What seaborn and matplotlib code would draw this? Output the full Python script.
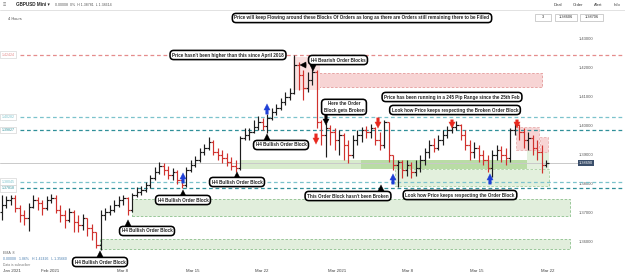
import numpy as np
import pandas as pd
import seaborn as sns
import matplotlib.pyplot as plt
from matplotlib.patches import Rectangle, FancyArrowPatch
from matplotlib.lines import Line2D

sns.set_theme(style="white")
plt.rcParams['font.family'] = ['Liberation Sans', 'DejaVu Sans']

### GBPUSD 4h bars
first_open = 1.3700
close = [1.3724, 1.3741, 1.3748, 1.3714, 1.3690, 1.3679, 1.3717, 1.3741, 1.3731, 1.3714,
         1.3741, 1.3748, 1.3707, 1.3690, 1.3672, 1.3700, 1.3666, 1.3655, 1.3679, 1.3645,
         1.3631, 1.3586, 1.3690, 1.3700, 1.3707, 1.3724, 1.3741, 1.3748, 1.3707, 1.3759,
         1.3769, 1.3776, 1.3793, 1.3817, 1.3838, 1.3859, 1.3845, 1.3828, 1.3838, 1.3810,
         1.3793, 1.3845, 1.3862, 1.3879, 1.3907, 1.3921, 1.3941, 1.3907, 1.3897, 1.3886,
         1.3872, 1.3859, 1.3852, 1.3955, 1.3966, 1.3976, 1.3993, 1.4010, 1.3997, 1.4024,
         1.4045, 1.4059, 1.4079, 1.4097, 1.4110, 1.4207, 1.4172, 1.4128, 1.4155, 1.4183,
         1.4010, 1.3966, 1.3990, 1.3976, 1.3948, 1.3966, 1.3931, 1.3897, 1.3948, 1.3966,
         1.3983, 1.3976, 1.3990, 1.3948, 1.3931, 1.4010, 1.3897, 1.3862, 1.3872, 1.3845,
         1.3862, 1.3838, 1.3852, 1.3879, 1.3907, 1.3931, 1.3921, 1.3948, 1.3966, 1.3983,
         1.3993, 1.4000, 1.3966, 1.3931, 1.3907, 1.3921, 1.3897, 1.3879, 1.3852, 1.3897,
         1.3914, 1.3897, 1.3886, 1.3983, 1.4000, 1.3976, 1.3948, 1.3955, 1.3921, 1.3907,
         1.3862, 1.3869]
high = [1.3759, 1.3755, 1.3759, 1.3759, 1.3724, 1.3707, 1.3731, 1.3759, 1.3752, 1.3741,
        1.3755, 1.3762, 1.3759, 1.3724, 1.3707, 1.3714, 1.3707, 1.3690, 1.3693, 1.3679,
        1.3659, 1.3631, 1.3707, 1.3714, 1.3724, 1.3741, 1.3755, 1.3759, 1.3752, 1.3766,
        1.3786, 1.3790, 1.3803, 1.3828, 1.3855, 1.3872, 1.3869, 1.3859, 1.3852, 1.3845,
        1.3824, 1.3855, 1.3879, 1.3893, 1.3921, 1.3934, 1.3959, 1.3948, 1.3921, 1.3914,
        1.3903, 1.3890, 1.3879, 1.3962, 1.3990, 1.3990, 1.4017, 1.4031, 1.4024, 1.4038,
        1.4059, 1.4072, 1.4093, 1.4114, 1.4128, 1.4241, 1.4217, 1.4190, 1.4183, 1.4203,
        1.4190, 1.4017, 1.4007, 1.4000, 1.3990, 1.3983, 1.3972, 1.3948, 1.3966, 1.3983,
        1.3993, 1.3997, 1.4003, 1.3993, 1.3976, 1.4017, 1.4010, 1.3897, 1.3879, 1.3879,
        1.3879, 1.3872, 1.3879, 1.3897, 1.3921, 1.3948, 1.3955, 1.3966, 1.3983, 1.3997,
        1.4010, 1.4014, 1.4003, 1.3983, 1.3948, 1.3941, 1.3931, 1.3914, 1.3897, 1.3914,
        1.3931, 1.3928, 1.3921, 1.3990, 1.4010, 1.4003, 1.3990, 1.3976, 1.3966, 1.3948,
        1.3931, 1.3879]
low = [1.3672, 1.3714, 1.3724, 1.3700, 1.3666, 1.3655, 1.3634, 1.3714, 1.3707, 1.3690,
       1.3707, 1.3731, 1.3697, 1.3666, 1.3645, 1.3666, 1.3631, 1.3631, 1.3638, 1.3617,
       1.3603, 1.3576, 1.3569, 1.3672, 1.3690, 1.3700, 1.3717, 1.3724, 1.3690, 1.3700,
       1.3752, 1.3759, 1.3769, 1.3783, 1.3810, 1.3831, 1.3828, 1.3814, 1.3810, 1.3797,
       1.3783, 1.3786, 1.3838, 1.3855, 1.3872, 1.3897, 1.3914, 1.3897, 1.3879, 1.3869,
       1.3859, 1.3845, 1.3838, 1.3845, 1.3948, 1.3948, 1.3972, 1.3983, 1.3983, 1.3972,
       1.4017, 1.4034, 1.4052, 1.4069, 1.4086, 1.4107, 1.4121, 1.4086, 1.4114, 1.4138,
       1.3990, 1.3931, 1.3890, 1.3931, 1.3914, 1.3897, 1.3879, 1.3869, 1.3886, 1.3931,
       1.3941, 1.3955, 1.3955, 1.3931, 1.3914, 1.3921, 1.3872, 1.3845, 1.3786, 1.3817,
       1.3824, 1.3817, 1.3824, 1.3838, 1.3862, 1.3886, 1.3907, 1.3914, 1.3931, 1.3955,
       1.3972, 1.3983, 1.3948, 1.3914, 1.3879, 1.3886, 1.3872, 1.3862, 1.3838, 1.3821,
       1.3879, 1.3872, 1.3862, 1.3872, 1.3966, 1.3948, 1.3921, 1.3914, 1.3897, 1.3879,
       1.3834, 1.3855]

date_labels = ["Jan 2021", "Feb 2021", "Mar 8", "Mar 15", "Mar 22",
               "Mar 2021", "Mar 8", "Mar 15", "Mar 22"]
date_ticks = [2.2, 10.7, 26.7, 42.4, 57.8, 74.4, 90.2, 105.6, 121.3]
price_ticks = [1.36, 1.37, 1.38, 1.39, 1.40, 1.41, 1.42, 1.43]

## horizontal levels
level_prices = [1.42424, 1.40282, 1.39827, 1.38045, 1.37818]
level_colors = ["#e58c8c", "#7cc3cc", "#2f8f98", "#7cc3cc", "#2f8f98"]

## order block zones (bar from, bar to, price low, price high)
zone_from = [70.2, 64.7, 28.9, 21.8, 52.9, 79.8, 87.3, 116.7, 114.2, 119.6]
zone_to = [120.0, 70.7, 126.2, 126.2, 121.6, 121.6, 121.6, 121.6, 119.3, 121.3]
zone_low = [1.4131, 1.4121, 1.3686, 1.3572, 1.3848, 1.3848, 1.3790, 1.3848, 1.3914, 1.3907]
zone_high = [1.4179, 1.4234, 1.3745, 1.3607, 1.3879, 1.3879, 1.3848, 1.3914, 1.3993, 1.3959]
zone_fill = ["#f7d4d4", "#fae0e0", "#e1eedc", "#e1eedc", "#d8ebcd", "#b9dca5",
             "#e3f0dd", "#e3f0dd", "#f7d4d4", "#f7d4d4"]
zone_edge = ["#e49a9a", "none", "#8cc08c", "#8cc08c", "none", "none",
             "#a8d0a0", "none", "#e8b0b0", "#e8b0b0"]

df = pd.DataFrame({'close': close, 'high': high, 'low': low})
df['open'] = [first_open] + close[:-1]
df['up'] = df['close'] >= df['open']

W, H = 625, 274
def fx(x):
    return x / W
def fy(y):
    return 1 - y / H

fig = plt.figure(figsize=(6.25, 2.74), dpi=100)
ax = fig.add_axes([0, fy(266), 572 / W, (266 - 10) / H])
ax.set_xlim(-0.444, 126.67)
ax.set_ylim(1.35138, 1.43966)
sns.despine(ax=ax, left=True, bottom=True)

for i in range(len(zone_from)):
    ax.add_patch(Rectangle((zone_from[i], zone_low[i]), zone_to[i] - zone_from[i],
                           zone_high[i] - zone_low[i], fc=zone_fill[i], ec=zone_edge[i],
                           ls=(0, (3, 2)), lw=0.6, zorder=1, clip_on=False))

ytr = ax.get_yaxis_transform()
for p, c, lab in zip(level_prices, level_colors, ["%.5f" % v for v in level_prices]):
    ax.plot([0.035, 1.093], [p, p], color=c, lw=0.9, ls=(0, (3, 2.2)),
            transform=ytr, clip_on=False, zorder=2)
    ax.text(0.003, p, lab, transform=ytr, fontsize=2.6, va='center', ha='left',
            color=c, bbox=dict(boxstyle='square,pad=0.35', fc='white', ec='#cccccc', lw=0.4))

## current price line + box
ax.plot([0, 1.01], [close[-1], close[-1]], color='#c9c9c9', lw=0.7,
        transform=ytr, clip_on=False, zorder=1.5)
ax.text(1.012, close[-1], "%.5f" % close[-1], transform=ytr, fontsize=2.8,
        va='center', ha='left', color='white',
        bbox=dict(boxstyle='square,pad=0.35', fc='#3b4f6b', ec='none'))

### OHLC bars
for flag, col in [(True, '#1c1c1c'), (False, '#d0312d')]:
    sub = df[df['up'] == flag]
    x = sub.index.values
    ax.vlines(x, sub['low'], sub['high'], color=col, lw=0.85, zorder=3)
    ax.hlines(sub['open'], x - 0.45, x, color=col, lw=0.85, zorder=3)
    ax.hlines(sub['close'], x, x + 0.45, color=col, lw=0.85, zorder=3)

ax.yaxis.tick_right()
ax.set_yticks(price_ticks)
ax.set_yticklabels(["%.5f" % v for v in price_ticks])
ax.tick_params(axis='y', length=0, pad=5, labelsize=3, labelcolor='#555555')
ax.set_xticks(date_ticks)
ax.set_xticklabels(date_labels)
ax.tick_params(axis='x', length=0, pad=2, labelsize=3.2, labelcolor='#444444')

### header
fig.add_artist(Line2D([0, 1], [fy(10), fy(10)], color='#dddddd', lw=0.6,
                      transform=fig.transFigure))
fig.text(fx(3), fy(5), "≡", fontsize=4, color='#777777', va='center')
fig.text(fx(16), fy(5), "GBPUSD Mini ▾", fontsize=3.3, fontweight='bold', va='center')
fig.text(fx(55), fy(5), "0.00008  0%  H 1.38781  L 1.38614", fontsize=2.6,
         color='#555555', va='center')
for lab, xp in [("Deal", 558), ("Order", 578), ("Alert", 598), ("Info", 617)]:
    fig.text(fx(xp), fy(5), lab, fontsize=3, ha='center', va='center', color='#333333')
fig.text(fx(8), fy(19), "4 Hours", fontsize=2.8, color='#444444', va='center')
for lab, x0, x1 in [("3", 535, 551), ("1.38606", 555, 577), ("1.38706", 580, 603)]:
    fig.add_artist(Rectangle((fx(x0), fy(21)), fx(x1 - x0), 7 / H, fill=False,
                             ec='#bbbbbb', lw=0.5, transform=fig.transFigure))
    fig.text(fx((x0 + x1) / 2), fy(17.5), lab, fontsize=2.8, ha='center', va='center')

## bottom left info
fig.text(fx(3), fy(253), "EMA  8", fontsize=2.6, color='#666666', va='center')
fig.text(fx(3), fy(259), "0.00008   1.86%   H 1.42426   L 1.35660         2021 14:00",
         fontsize=2.5, color='#4a7fb0', va='center')
fig.text(fx(3), fy(265), "Data is subscriber", fontsize=2.4, color='#777777', va='center')

### arrows (tail x, tail y, head x, head y) in pixels
arrows = [
    (183, 186, 183, 170, '#1e3fd6'), (267, 117, 267, 101, '#1e3fd6'),
    (393, 187, 393, 171, '#1e3fd6'), (490, 187, 490, 171, '#1e3fd6'),
    (316, 131, 316, 147, '#e8281e'), (378, 115, 378, 131, '#e8281e'),
    (452, 117, 452, 131, '#e8281e'), (517, 117, 517, 131, '#e8281e'),
    (100, 257, 100, 248, 'black'), (128, 226, 128, 217, 'black'),
    (183, 196, 183, 187, 'black'), (237, 178, 237, 169, 'black'),
    (267, 140, 267, 131, 'black'), (381, 191, 381, 182, 'black'),
    (326, 112, 326, 128, 'black'), (313, 62, 313, 74, 'black'),
    (309, 65, 297, 65, 'black'),
]
for x0, y0, x1, y1, c in arrows:
    fig.add_artist(FancyArrowPatch((fx(x0), fy(y0)), (fx(x1), fy(y1)),
                   transform=fig.transFigure,
                   arrowstyle='simple,head_length=0.9,head_width=0.9,tail_width=0.4',
                   mutation_scale=5, fc=c, ec=c, lw=0.2, zorder=9))

### callout boxes
notes = [
    ("Price will keep Flowing around these Blocks Of Orders as long as there are Orders still remaining there to be Filled", 362, 18),
    ("Price hasn't been higher than this since April 2018", 228, 55),
    ("H4 Bearish Order Blocks", 338, 60),
    ("Here the Order\nBlock gets Broken", 344, 107),
    ("Price has been running in a 245 Pip Range since the 25th Feb", 452, 97),
    ("Look how Price keeps respecting the Broken Order Block", 455, 110),
    ("H4 Bullish Order Block", 281, 145),
    ("H4 Bullish Order Block", 237, 182),
    ("H4 Bullish Order Block", 183, 200),
    ("H4 Bullish Order Block", 147, 231),
    ("H4 Bullish Order Block", 100, 262),
    ("This Order Block hasn't been Broken", 348, 196),
    ("Look how Price keeps respecting the Order Block", 460, 195),
]
for txt, xp, yp in notes:
    fig.text(fx(xp), fy(yp), txt, fontsize=3.35, fontweight='bold', ha='center',
             va='center', zorder=10, linespacing=1.3,
             bbox=dict(boxstyle='round,pad=0.45,rounding_size=0.8', fc='white',
                       ec='black', lw=1.15))

fig.savefig('out.png', dpi=100)
